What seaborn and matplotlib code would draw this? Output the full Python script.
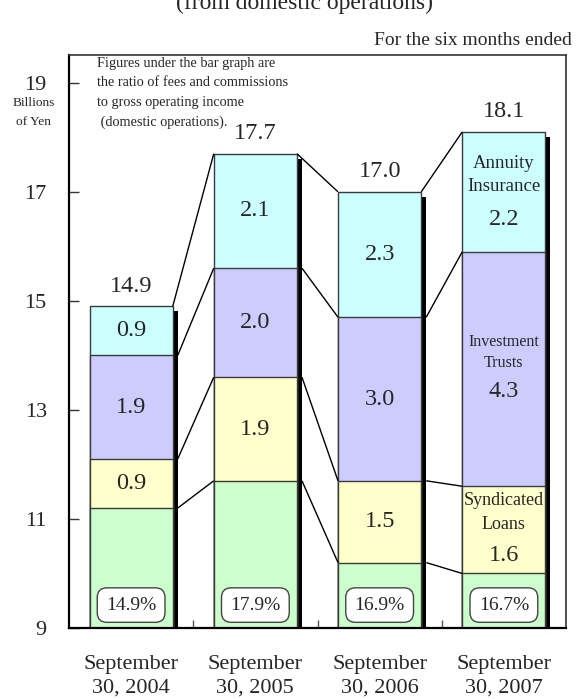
import matplotlib
matplotlib.use("Agg")
import matplotlib.pyplot as plt
import seaborn as sns
import numpy as np
import pandas as pd

# ---------------- data ----------------
periods = ["September\n30, 2004", "September\n30, 2005", "September\n30, 2006", "September\n30, 2007"]
others = [11.2, 11.7, 10.2, 10.0]          # green base (top level of base segment)
syndicated = [0.9, 1.9, 1.5, 1.6]
investment = [1.9, 2.0, 3.0, 4.3]
annuity = [0.9, 2.1, 2.3, 2.2]
totals = [14.9, 17.7, 17.0, 18.1]
ratios = ["14.9%", "17.9%", "16.9%", "16.7%"]
yticks = [9, 11, 13, 15, 17, 19]

colors = {"others": "#CCFFCC", "synd": "#FFFFCC", "inv": "#CCCCFF", "ann": "#CCFFFF"}

sns.set_theme(style="white")
plt.rcParams["font.family"] = ["Liberation Serif", "DejaVu Serif"]

fig = plt.figure(figsize=(5.79, 6.99), dpi=100)
ax = fig.add_axes([69 / 579, 1 - 628 / 699, 497 / 579, 573 / 699])

x = np.arange(len(periods))
lvl_green = np.array(others)
lvl_synd = lvl_green + np.array(syndicated)
lvl_inv = lvl_synd + np.array(investment)
lvl_ann = lvl_inv + np.array(annuity)

W = 0.67
SW = 0.04
DY = 0.09

# shadows
ax.bar(x + W / 2 + SW / 2 - 0.004, lvl_ann - DY, width=SW + 0.008, color="black", zorder=1, linewidth=0)

df = pd.DataFrame({"period": periods, "green": lvl_green, "synd": lvl_synd,
                   "inv": lvl_inv, "ann": lvl_ann})
ec = "#3a3a3a"
for col, c, z in [("ann", colors["ann"], 2), ("inv", colors["inv"], 3),
                  ("synd", colors["synd"], 4), ("green", colors["others"], 5)]:
    sns.barplot(data=df, x="period", y=col, color=c, width=W, edgecolor=ec,
                linewidth=1.0, saturation=1, ax=ax, zorder=z)

# connector lines
levels = [lvl_ann, lvl_inv, lvl_synd, lvl_green]
for k, lv in enumerate(levels):
    for i in range(len(x) - 1):
        x0 = x[i] + W / 2 + (0 if k == 0 else SW)
        x1 = x[i + 1] - W / 2
        ax.plot([x0, x1], [lv[i], lv[i + 1]], color="black", lw=1.0, zorder=6,
                solid_capstyle="butt")

ax.set_ylim(9, 19.51)
ax.set_xlim(-0.5, 3.5)

# segment value labels
VS = 17.5
for i in range(len(x)):
    ax.annotate(f"{totals[i]:.1f}", (x[i], lvl_ann[i]), xytext=(0, 7), textcoords="offset points",
                ha="center", va="bottom", fontsize=VS, zorder=8)
    if i < 3:
        ax.annotate(f"{annuity[i]:.1f}", (x[i], (lvl_inv[i] + lvl_ann[i]) / 2),
                    ha="center", va="center", fontsize=VS, zorder=8)
        ax.annotate(f"{investment[i]:.1f}", (x[i], (lvl_synd[i] + lvl_inv[i]) / 2),
                    ha="center", va="center", fontsize=VS, zorder=8)
        ax.annotate(f"{syndicated[i]:.1f}", (x[i], (lvl_green[i] + lvl_synd[i]) / 2),
                    ha="center", va="center", fontsize=VS, zorder=8)

i = 3
for name, val, lo, hi, fs, ls, noff, voff in [
        ("Annuity\nInsurance", annuity[i], lvl_inv[i], lvl_ann[i], 13.5, 1.45, 12, -20),
        ("Investment\nTrusts", investment[i], lvl_synd[i], lvl_inv[i], 11.5, 1.42, 12, -16.5),
        ("Syndicated\nLoans", syndicated[i], lvl_green[i], lvl_synd[i], 13, 1.5, 12.5, -18.5)]:
    ax.annotate(name, (x[i], (lo + hi) / 2), xytext=(0, noff), textcoords="offset points",
                ha="center", va="center", fontsize=fs, zorder=8, linespacing=ls)
    ax.annotate(f"{val:.1f}", (x[i], (lo + hi) / 2), xytext=(0, voff), textcoords="offset points",
                ha="center", va="center", fontsize=VS, zorder=8)

# ratio boxes
for i in range(len(x)):
    ax.annotate(ratios[i], (x[i], 9), xytext=(0, 16.5), textcoords="offset points",
                ha="center", va="center", fontsize=14, zorder=9,
                bbox=dict(boxstyle="round,pad=0.45,rounding_size=0.5", fc="white", ec="#444444", lw=1.0))

# axes styling
ax.set_yticks(yticks)
ax.set_yticklabels([str(t) for t in yticks], fontsize=16)
ax.tick_params(axis="y", direction="in", length=7, width=1, pad=16, color="#333333", left=True)
ax.set_xticks(x)
ax.set_xticklabels(periods, fontsize=16, linespacing=1.32)
ax.tick_params(axis="x", which="major", length=0, pad=19.5)
ax.set_xticks([0.5, 1.5, 2.5], minor=True)
ax.tick_params(axis="x", which="minor", direction="in", length=6, width=1, color="#555555", bottom=True)
ax.set_xlabel("")
ax.set_ylabel("")
for s in ["left", "bottom"]:
    ax.spines[s].set_linewidth(1.6)
    ax.spines[s].set_color("black")
for s in ["top", "right"]:
    ax.spines[s].set_linewidth(1.2)
    ax.spines[s].set_color("#333333")
for s in ax.spines.values():
    s.set_zorder(10)

ax.text(0.056, 0.997, "Figures under the bar graph are\nthe ratio of fees and commissions\nto gross operating income\n (domestic operations).",
        transform=ax.transAxes, ha="left", va="top", fontsize=10.3, linespacing=1.64, zorder=9)

fig.text(34 / 579, 1 - 112.5 / 699, "Billions\nof Yen", ha="center", va="center", fontsize=9.6, linespacing=1.75)
fig.text(572 / 579, 1 - 45 / 699, "For the six months ended", ha="right", va="baseline", fontsize=14)
fig.text(305 / 579, 1 - 9 / 699, "(from domestic operations)", ha="center", va="baseline", fontsize=17)

fig.savefig("out.png", dpi=100)
